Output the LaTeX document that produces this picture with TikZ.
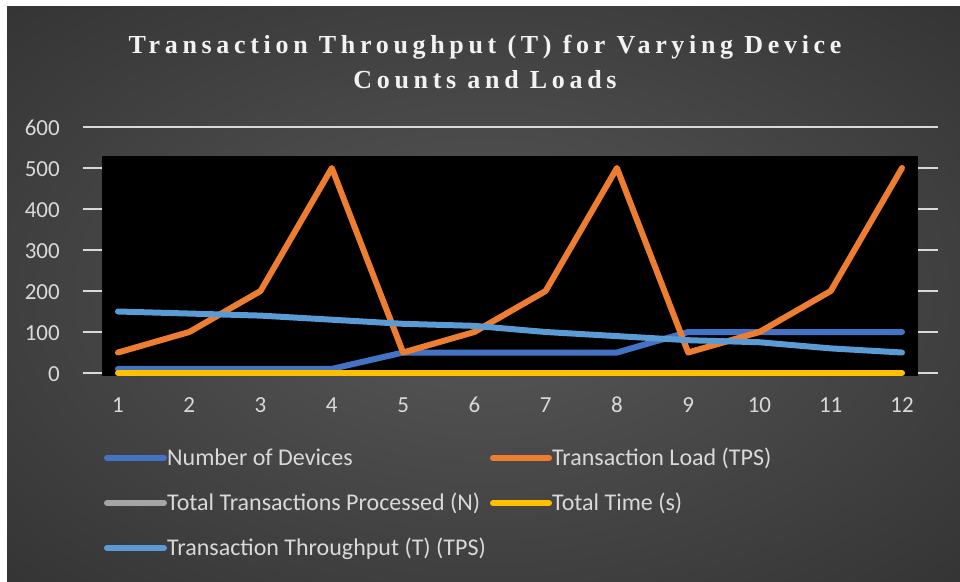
\documentclass[tikz,border=0pt]{standalone}
\usepackage{fontspec}
\setmainfont{Carlito}
\newfontfamily\titlefont[LetterSpace=18]{Liberation Serif}
\definecolor{bgin}{HTML}{585858}
\definecolor{bgout}{HTML}{262626}
\definecolor{txt}{HTML}{D9D9D9}
\definecolor{ttl}{HTML}{F2F2F2}
\definecolor{gridc}{HTML}{D9D9D9}
\definecolor{sdev}{HTML}{4472C4}
\definecolor{sload}{HTML}{ED7D31}
\definecolor{sN}{HTML}{A5A5A5}
\definecolor{stime}{HTML}{FFC000}
\definecolor{sthr}{HTML}{5B9BD5}
\pgfdeclareradialshading{bgshade}{\pgfpoint{0bp}{0bp}}{color(0bp)=(bgin); color(50bp)=(bgout)}
\tikzset{
  titletext/.style={text=ttl, font=\titlefont\bfseries\fontsize{26}{30}\selectfont, inner sep=0pt, anchor=base},
  axlabel/.style={text=txt, font=\fontsize{23}{27}\selectfont, inner sep=0pt},
  gridline/.style={draw=gridc, line width=2pt},
  series/.style={line width=6pt, line cap=round, line join=round},
  legline/.style={line width=6pt, line cap=round},
  legtext/.style={text=txt, font=\fontsize{24}{28}\selectfont, inner sep=0pt, anchor=base west},
}
\begin{document}
\begin{tikzpicture}[x=1pt,y=-1pt]
\useasboundingbox (0,0) rectangle (960,581);
\fill[white] (0,0) rectangle (960,581);
\shade[shading=bgshade] (7,6) rectangle (960,581);
% title
\node[titletext] (title1) at (485,53) {Transaction Throughput (T) for Varying Device};
\node[titletext] (title2) at (485,88) {Counts and Loads};
% gridlines and y labels
\foreach \v/\yy in {0/373,100/332,200/291,300/250,400/209,500/168,600/127}{
  \draw[gridline] (83,\yy) -- (938,\yy);
  \node[axlabel, anchor=base east] (y\v) at (60,\yy+8) {\v};
}
% plot area
\fill[black] (102,156) rectangle (918,376);
% x labels
\foreach \i in {1,...,12}{
  \node[axlabel, anchor=base] (x\i) at ({118+(\i-1)*71.2727},412) {\i};
}
% series
\begin{scope}[shift={(118,373)}, x=71.2727pt, y=0.41pt]
  \draw[series, sdev] plot coordinates {(0,10) (1,10) (2,10) (3,10) (4,50) (5,50) (6,50) (7,50) (8,100) (9,100) (10,100) (11,100)};
  \draw[series, sload] plot coordinates {(0,50) (1,100) (2,200) (3,500) (4,50) (5,100) (6,200) (7,500) (8,50) (9,100) (10,200) (11,500)};
  \draw[series, stime] plot coordinates {(0,0) (11,0)};
  \draw[series, sthr] plot coordinates {(0,150) (1,145) (2,140) (3,130) (4,120) (5,115) (6,100) (7,90) (8,80) (9,75) (10,60) (11,50)};
\end{scope}
% legend
\coordinate (l1a) at (107,458); \coordinate (l1b) at (164,458);
\coordinate (l2a) at (493,458); \coordinate (l2b) at (549,458);
\coordinate (l3a) at (107,503); \coordinate (l3b) at (164,503);
\coordinate (l4a) at (493,503); \coordinate (l4b) at (549,503);
\coordinate (l5a) at (107,548); \coordinate (l5b) at (164,548);
\draw[legline, sdev] (l1a) -- (l1b);
\draw[legline, sload] (l2a) -- (l2b);
\draw[legline, sN] (l3a) -- (l3b);
\draw[legline, stime] (l4a) -- (l4b);
\draw[legline, sthr] (l5a) -- (l5b);
\node[legtext] (t1) at (167,465) {Number of Devices};
\node[legtext] (t2) at (552,465) {Transaction Load (TPS)};
\node[legtext] (t3) at (167,510) {Total Transactions Processed (N)};
\node[legtext] (t4) at (552,510) {Total Time (s)};
\node[legtext] (t5) at (167,555) {Transaction Throughput (T) (TPS)};
\end{tikzpicture}
\end{document}
